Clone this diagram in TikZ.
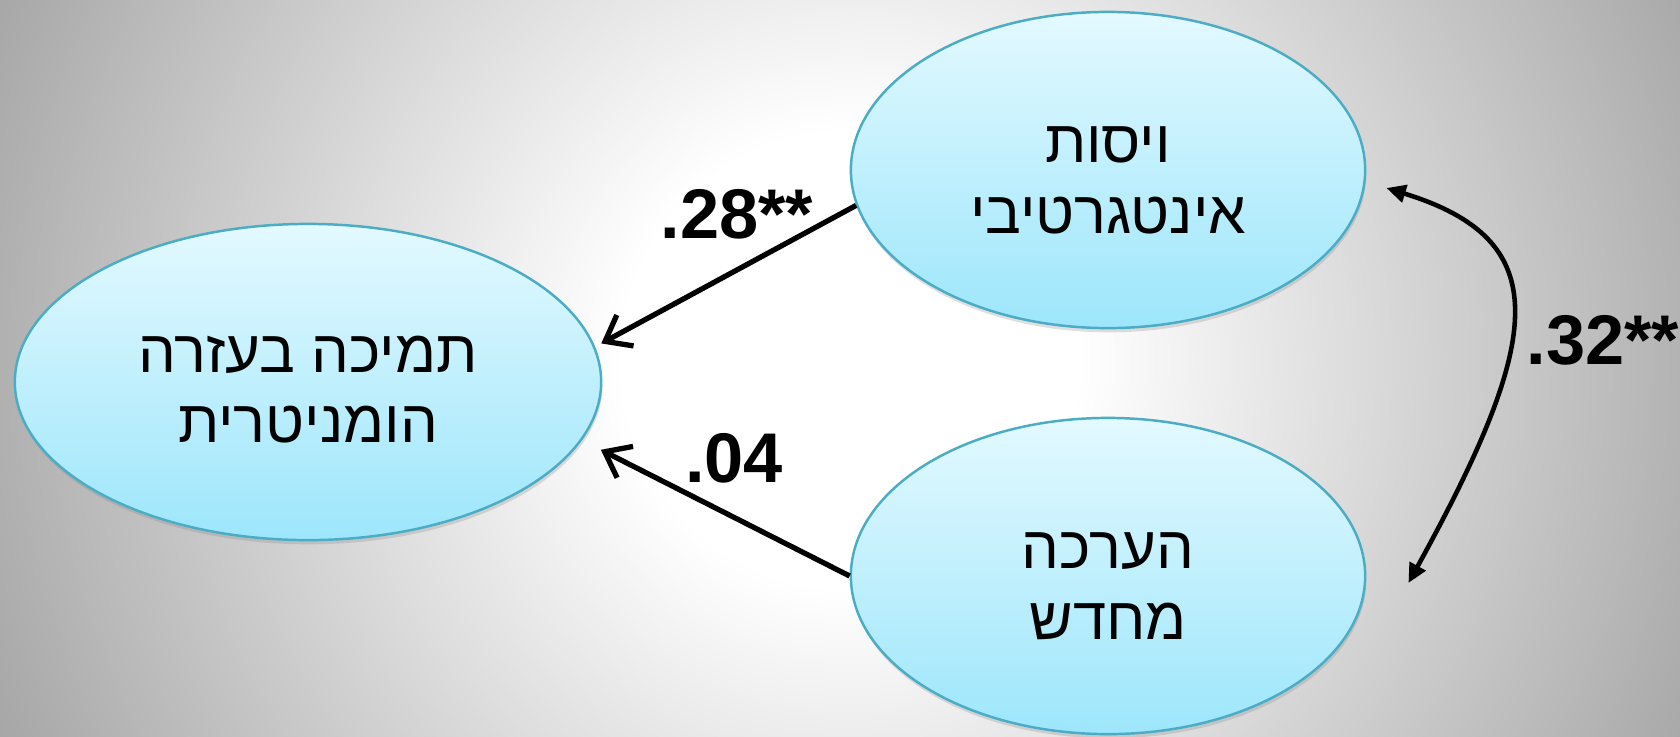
\documentclass[tikz,border=0pt]{standalone}
\usepackage{fontspec}
\setmainfont{Liberation Sans}
\newfontfamily\hebfont[Script=Hebrew]{Liberation Sans}
\TeXXeTstate=1
\usetikzlibrary{arrows.meta,shapes.geometric,shadows}
\definecolor{rand}{HTML}{4BACC6}
\definecolor{ellOben}{HTML}{E3F9FF}
\definecolor{ellUnten}{HTML}{9DE6FB}
\definecolor{hgGrau}{HTML}{A4A4A4}
\pgfdeclareradialshading{hintergrund}{\pgfpoint{0bp}{0bp}}{color(0bp)=(white); color(6bp)=(white); color(25bp)=(hgGrau); color(50bp)=(hgGrau)}
\newcommand{\rtl}[1]{\beginR #1\endR}

\begin{document}
\begin{tikzpicture}[x=0.01cm, y=-0.01cm, line width=1.5pt,
    konstrukt/.style={ellipse, draw=rand, line width=0.7pt, top color=ellOben, bottom color=ellUnten,
        inner sep=0pt, minimum height=3.16cm, align=center,
        font=\hebfont\fontsize{17pt}{20pt}\selectfont,
        drop shadow={shadow xshift=0.3pt, shadow yshift=-1.2pt, opacity=.25}},
    wert/.style={font=\bfseries\fontsize{20pt}{24pt}\selectfont, anchor=base, inner sep=0pt},
    pfeil/.style={-{Straight Barb[length=6.5pt, width=10pt]}},
    doppel/.style={line width=1.3pt, {Triangle[length=5.5pt, width=5pt]}-{Triangle[length=5.5pt, width=5pt]}}]
    % Hintergrund.
    \useasboundingbox (0,0) rectangle (1680,736);
    \begin{scope}
        \clip (0,0) rectangle (1680,736);
        \shade[shading=hintergrund] (-100,-590) rectangle (1800,1310);
    \end{scope}

    % Konstrukte.
    \node[konstrukt, minimum width=5.86cm] (hum) at (308,382) {\rtl{\rule{0pt}{14.5pt}תמיכה בעזרה}\\\rtl{הומניטרית}};
    \node[konstrukt, minimum width=5.14cm] (vis) at (1108,170) {\rtl{\rule{0pt}{16pt}ויסות}\\\rtl{אינטגרטיבי}};
    \node[konstrukt, minimum width=5.14cm] (ner) at (1108,576) {\rtl{\rule{0pt}{16pt}הערכה}\\\rtl{מחדש}};

    % Pfeile.
    \draw[pfeil, shorten >=2pt] (vis.188) -- (hum.7.5);
    \draw[pfeil, shorten >=6pt] (ner.west) -- (hum.-12);
    \draw[doppel] ([xshift=0.2cm, yshift=-0.18cm]vis.east) .. controls (1555,240) and (1545,335) .. ([xshift=0.42cm, yshift=-0.07cm]ner.east);

    % Beschriftung.
    \node[wert] (w1) at (737,238) {.28**};
    \node[wert] (w2) at (734,482) {.04};
    \node[wert] (w3) at (1603,364) {.32**};
\end{tikzpicture}
\end{document}
